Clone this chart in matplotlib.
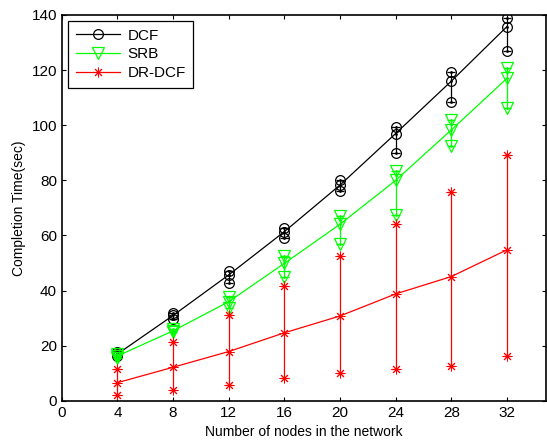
import numpy as np
import matplotlib
matplotlib.use('Agg')
import matplotlib.pyplot as plt

plt.rcParams['font.family'] = ['Liberation Sans', 'DejaVu Sans']

nodes = [4, 8, 12, 16, 20, 24, 28, 32]

dcf_mean = [17.0, 31.0, 45.7, 61.4, 78.3, 97.0, 116.0, 135.8]
dcf_up = [17.9, 31.8, 47.2, 62.9, 80.2, 99.5, 119.2, 139.0]
dcf_low = [16.3, 29.7, 42.7, 59.2, 76.3, 89.8, 108.3, 127.0]

srb_mean = [16.3, 25.4, 36.0, 49.9, 64.1, 80.0, 98.3, 117.0]
srb_up = [16.9, 26.0, 37.8, 52.6, 67.2, 83.5, 101.9, 120.6]
srb_low = [15.5, 25.0, 33.6, 45.1, 57.0, 67.5, 92.6, 106.2]

dr_mean = [6.6, 12.2, 17.9, 24.7, 30.8, 38.8, 45.1, 54.8]
dr_up = [11.6, 21.3, 31.2, 41.5, 52.6, 64.2, 75.9, 89.1]
dr_low = [2.2, 4.0, 5.8, 8.3, 10.2, 11.6, 12.7, 16.3]

fig = plt.figure(figsize=(5.47, 4.41), dpi=100)
ax = fig.add_axes([0.113, 0.091, 0.885, 0.875])

series = [
    ('DCF', dcf_mean, dcf_up, dcf_low, 'k', dict(marker='o', markersize=7, markerfacecolor='none', markeredgewidth=0.9)),
    ('SRB', srb_mean, srb_up, srb_low, '#00ff00', dict(marker='v', markersize=8, markerfacecolor='none', markeredgewidth=0.9)),
    ('DR-DCF', dr_mean, dr_up, dr_low, 'red', dict(marker=(8, 2, 0), markersize=7, markeredgewidth=0.7)),
]

x = np.array(nodes)
for name, m, up, low, c, mk in series:
    m = np.array(m)
    up = np.array(up)
    low = np.array(low)
    ax.vlines(x, low, up, color=c, linewidth=0.9)
    ax.hlines(up, x - 0.3, x + 0.3, color=c, linewidth=0.9)
    ax.hlines(low, x - 0.3, x + 0.3, color=c, linewidth=0.9)
    ax.plot(x, up, linestyle='none', color=c, **mk)
    ax.plot(x, low, linestyle='none', color=c, **mk)
    ax.plot(x, m, color=c, linewidth=0.9, label=name, **mk)
    ax.plot(np.concatenate([x, x, x]), np.concatenate([m, up, low]), linestyle='none',
            marker='.', markersize=2, color=c)

ax.set_xlim(0, 34.8)
ax.set_ylim(0, 140)
ax.set_xticks(range(0, 33, 4))
ax.set_yticks(range(0, 141, 20))
ax.tick_params(direction='in', top=True, right=True, labelsize=11, length=3)
for s in ax.spines.values():
    s.set_linewidth(1.2)

ax.set_xlabel('Number of nodes in the network', fontsize=10)
ax.set_ylabel('Completion Time(sec)', fontsize=10)

leg = ax.legend(loc='upper left', fontsize=11, fancybox=False, framealpha=1,
                edgecolor='k', borderaxespad=0.4, handlelength=2.9, handletextpad=0.5,
                labelspacing=0.3, borderpad=0.5)
leg.get_frame().set_linewidth(0.9)

fig.savefig('out.png', dpi=100)
